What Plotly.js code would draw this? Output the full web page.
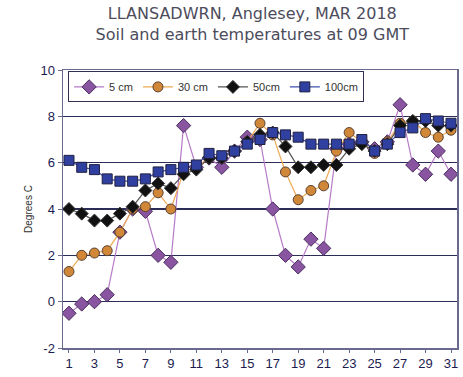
<!DOCTYPE html>
<html>
<head>
<meta charset="utf-8">
<script src="https://cdn.plot.ly/plotly-3.0.1.min.js"></script>
<style>html,body{margin:0;padding:0;background:#fff;}#chart{width:463px;height:377px;}</style>
</head>
<body>
<div id="chart"></div>
<script>
var days = [1,2,3,4,5,6,7,8,9,10,11,12,13,14,15,16,17,18,19,20,21,22,23,24,25,26,27,28,29,30,31];
var cm5 = [-0.5,-0.1,0.0,0.3,3.0,4.0,3.9,2.0,1.7,7.6,5.8,6.2,5.8,6.5,7.1,7.0,4.0,2.0,1.5,2.7,2.3,6.6,6.8,6.9,6.6,6.9,8.5,5.9,5.5,6.5,5.5];
var cm30 = [1.3,2.0,2.1,2.2,3.0,4.0,4.1,4.7,4.0,5.6,5.8,6.2,6.2,6.5,6.9,7.7,7.2,5.6,4.4,4.8,5.0,6.5,7.3,6.9,6.4,6.9,7.7,7.8,7.3,7.1,7.4];
var cm50 = [4.0,3.8,3.5,3.5,3.8,4.1,4.8,5.1,4.9,5.5,5.7,6.2,6.2,6.5,6.9,7.2,7.3,6.7,5.8,5.8,5.9,5.9,6.6,6.8,6.5,6.8,7.6,7.8,7.8,7.6,7.6];
var cm100 = [6.1,5.8,5.7,5.3,5.2,5.2,5.3,5.6,5.7,5.8,5.9,6.4,6.3,6.5,6.8,7.0,7.3,7.2,7.1,6.8,6.8,6.8,6.8,7.0,6.5,6.8,7.3,7.5,7.9,7.8,7.7];
var seriesNames = ['5 cm','30 cm','50cm','100cm'];
var xTicks = [1,3,5,7,9,11,13,15,17,19,21,23,25,27,29,31];
var yTicks = [-2,0,2,4,6,8,10];

var traces = [
  {x: days, y: cm5, name: seriesNames[0], mode: 'lines+markers',
   line: {color: '#b77ac8', width: 1.2},
   marker: {symbol: 'diamond', size: 11, color: '#8a55a0', line: {color: '#4a3060', width: 1}}},
  {x: days, y: cm30, name: seriesNames[1], mode: 'lines+markers',
   line: {color: '#eeaa55', width: 1.2},
   marker: {symbol: 'circle', size: 10, color: '#d08838', line: {color: '#5a4030', width: 1}}},
  {x: days, y: cm50, name: seriesNames[2], mode: 'lines+markers',
   line: {color: '#555555', width: 1.2},
   marker: {symbol: 'diamond', size: 10, color: '#111111', line: {color: '#333333', width: 1}}},
  {x: days, y: cm100, name: seriesNames[3], mode: 'lines+markers',
   line: {color: '#4050b0', width: 1.2},
   marker: {symbol: 'square', size: 10, color: '#3040a0', line: {color: '#202040', width: 1}}}
];

var layout = {
  width: 463, height: 377,
  margin: {l: 63, r: 6, t: 70, b: 29, pad: 0},
  paper_bgcolor: '#ffffff', plot_bgcolor: '#ffffff',
  font: {family: 'Liberation Sans, Arial, sans-serif', color: '#1c1c50', size: 13},
  title: {text: 'LLANSADWRN, Anglesey, MAR 2018<br>Soil and earth temperatures at 09 GMT',
          font: {family: 'DejaVu Sans, Verdana, sans-serif', size: 16, color: '#4c4c5c'},
          x: 0.545, xanchor: 'center', y: 0.95, yanchor: 'top'},
  showlegend: true,
  legend: {orientation: 'h', x: 0.013, y: 0.995, xanchor: 'left', yanchor: 'top',
           bgcolor: '#ffffff', bordercolor: '#303050', borderwidth: 1,
           font: {family: 'Liberation Sans, Arial, sans-serif', size: 11, color: '#333333'},
           itemwidth: 30, tracegroupgap: 0},
  xaxis: {range: [0.53, 31.47], tickvals: xTicks, ticktext: xTicks.map(String),
          showgrid: false, zeroline: false, showline: true, mirror: true,
          linecolor: '#6a6a90', linewidth: 1.5, ticks: 'outside', ticklen: 3,
          tickcolor: '#6a6a90', tickfont: {size: 13, color: '#1c1c50'}},
  yaxis: {range: [-2, 10], tickvals: yTicks, ticktext: yTicks.map(String),
          showgrid: true, gridcolor: '#2c2c58', gridwidth: 1.3, zeroline: false,
          showline: true, mirror: true, linecolor: '#6a6a90', linewidth: 1.5,
          ticks: 'outside', ticklen: 4, tickcolor: '#6a6a90',
          tickfont: {size: 13, color: '#1c1c50'},
          title: {text: 'Degrees C', font: {size: 10, color: '#333333'}, standoff: 6}}
};

Plotly.newPlot('chart', traces, layout, {displayModeBar: false, staticPlot: true});
</script>
</body>
</html>
